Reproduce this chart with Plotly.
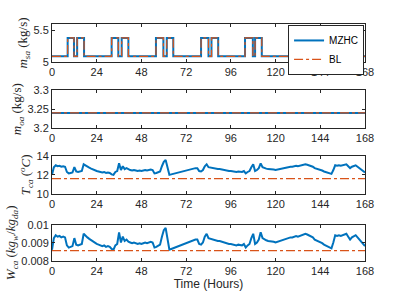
import plotly.graph_objects as go
from plotly.subplots import make_subplots

# ---- data ----
msa_t = [0, 8.4, 11.8, 13.5, 17.2, 32.0, 35.6, 37.4, 41.0, 55.8, 59.8, 61.6, 65.1,
         80.0, 84.0, 85.6, 89.2, 103.6, 107.8, 109.0, 112.6, 168]
msa_mzhc = [5.09, 5.38, 5.09, 5.38, 5.09, 5.38, 5.09, 5.38, 5.09, 5.38, 5.09, 5.38, 5.09,
            5.38, 5.09, 5.38, 5.09, 5.38, 5.09, 5.38, 5.09, 5.09]
msa_bl = [5.09, 5.38, 5.09, 5.38, 5.09, 5.38, 5.09, 5.38, 5.09, 5.38, 5.09, 5.38, 5.09,
          5.38, 5.09, 5.38, 5.09, 5.38, 5.09, 5.38, 5.09, 5.09]

moa_t = [0, 168]
moa_mzhc = [3.24, 3.24]
moa_bl = [3.24, 3.24]

hours = list(range(169))
tca_mzhc = [
    12.0, 12.8, 13.0, 12.9, 12.95, 12.85, 12.9, 12.85, 12.3, 12.15,
    12.2, 12.25, 12.8, 12.35, 12.3, 12.35, 12.4, 13.1, 12.95, 12.85,
    12.75, 12.65, 12.55, 12.5, 12.4, 12.35, 12.3, 12.25, 12.3, 12.2,
    12.25, 12.2, 12.05, 12.0, 12.3, 12.4, 13.2, 12.5, 12.9, 12.6,
    12.7, 12.55, 12.5, 12.45, 12.5, 12.45, 12.4, 12.45, 12.4, 12.45,
    12.5, 12.45, 12.5, 12.55, 12.5, 12.15, 12.2, 12.3, 12.35, 12.9,
    13.35, 13.55, 12.6, 12.0, 12.05, 12.1, 12.2, 12.25, 12.3, 12.35,
    12.4, 12.45, 12.5, 12.55, 12.6, 12.6, 12.65, 12.7, 12.7, 12.4,
    12.35, 12.5, 12.9, 13.1, 12.8, 12.75, 12.7, 12.7, 12.65, 12.6,
    12.6, 12.55, 12.5, 12.5, 12.45, 12.4, 12.4, 12.35, 12.35, 12.3,
    12.35, 12.3, 12.3, 12.4, 12.15, 12.3, 12.4, 12.8, 13.1, 12.4,
    12.5, 12.7, 13.2, 12.8, 12.7, 12.65, 12.6, 12.6, 12.55, 12.55,
    12.5, 12.55, 12.6, 12.65, 12.7, 12.75, 12.8, 12.8, 12.85, 12.85,
    12.9, 12.95, 12.9, 12.95, 13.0, 13.05, 13.1, 13.05, 13.0, 12.9,
    12.85, 12.7, 12.65, 12.6, 12.5, 12.45, 12.35, 12.3, 12.25, 12.15,
    12.1, 12.5, 13.0, 12.95, 13.0, 12.95, 13.0, 13.05, 13.1, 12.9,
    12.7, 12.85, 12.9, 13.0, 12.85, 12.7, 12.6, 12.4, 12.25,
]
tca_bl = [11.6, 11.6]

wca_mzhc = [
    0.00862, 0.00926, 0.00942, 0.00934, 0.00938, 0.00930, 0.00934, 0.00930, 0.00886, 0.00874,
    0.00878, 0.00882, 0.00926, 0.00890, 0.00886, 0.00890, 0.00894, 0.00950, 0.00938, 0.00930,
    0.00922, 0.00914, 0.00906, 0.00902, 0.00894, 0.00890, 0.00886, 0.00882, 0.00886, 0.00878,
    0.00882, 0.00878, 0.00866, 0.00862, 0.00886, 0.00894, 0.00958, 0.00902, 0.00934, 0.00910,
    0.00918, 0.00906, 0.00902, 0.00898, 0.00902, 0.00898, 0.00894, 0.00898, 0.00894, 0.00898,
    0.00902, 0.00898, 0.00902, 0.00906, 0.00902, 0.00874, 0.00878, 0.00886, 0.00890, 0.00934,
    0.00970, 0.00982, 0.00910, 0.00862, 0.00866, 0.00870, 0.00878, 0.00882, 0.00886, 0.00890,
    0.00894, 0.00898, 0.00902, 0.00906, 0.00910, 0.00910, 0.00914, 0.00918, 0.00918, 0.00894,
    0.00890, 0.00902, 0.00934, 0.00950, 0.00926, 0.00922, 0.00918, 0.00918, 0.00914, 0.00910,
    0.00910, 0.00906, 0.00902, 0.00902, 0.00898, 0.00894, 0.00894, 0.00890, 0.00890, 0.00886,
    0.00890, 0.00886, 0.00886, 0.00894, 0.00874, 0.00886, 0.00894, 0.00926, 0.00950, 0.00894,
    0.00902, 0.00918, 0.00958, 0.00926, 0.00918, 0.00914, 0.00910, 0.00910, 0.00906, 0.00906,
    0.00902, 0.00906, 0.00910, 0.00914, 0.00918, 0.00922, 0.00926, 0.00926, 0.00930, 0.00930,
    0.00934, 0.00938, 0.00934, 0.00938, 0.00942, 0.00946, 0.00950, 0.00946, 0.00942, 0.00934,
    0.00930, 0.00918, 0.00914, 0.00910, 0.00902, 0.00898, 0.00890, 0.00886, 0.00882, 0.00874,
    0.00870, 0.00902, 0.00942, 0.00938, 0.00942, 0.00938, 0.00942, 0.00946, 0.00950, 0.00934,
    0.00918, 0.00930, 0.00934, 0.00942, 0.00930, 0.00918, 0.00910, 0.00894, 0.00882,
]
wca_bl = [0.00857, 0.00857]

x_ticks = [0, 24, 48, 72, 96, 120, 144, 168]

BLUE = "#0072BD"
ORANGE = "#D95319"

fig = make_subplots(rows=4, cols=1)

def add_pair(row, xm, ym, xb, yb, shape="linear", show=False):
    fig.add_trace(go.Scatter(x=xm, y=ym, mode="lines", name="MZHC", showlegend=show,
                             line=dict(color=BLUE, width=2, shape=shape)), row=row, col=1)
    fig.add_trace(go.Scatter(x=xb, y=yb, mode="lines", name="BL", showlegend=show,
                             line=dict(color=ORANGE, width=1.2, dash="dashdot", shape=shape)), row=row, col=1)

add_pair(1, msa_t, msa_mzhc, msa_t, msa_bl, shape="hv", show=True)
add_pair(2, moa_t, moa_mzhc, moa_t, moa_bl)
add_pair(3, hours, tca_mzhc, [0, 168], tca_bl)
add_pair(4, hours, wca_mzhc, [0, 168], wca_bl)

domains = [[0.8397, 1.0], [0.560, 0.7215], [0.2827, 0.4443], [0.0, 0.1532]]
yranges = [[5, 5.6], [3.2, 3.3], [10, 14], [0.008, 0.01]]
ytickv = [[5, 5.5], [3.2, 3.25, 3.3], [10, 12, 14], [0.008, 0.009, 0.01]]
ytickt = [["5", "5.5"], ["3.2", "3.25", "3.3"], ["10", "12", "14"], ["0.008", "0.009", "0.01"]]
ytitles = [
    "<i>m<sub>sa</sub></i> (kg/s)",
    "<i>m<sub>oa</sub></i> (kg/s)",
    "<i>T<sub>ca</sub></i> (<sup><i>o</i></sup><i>C</i>)",
    "<i>W<sub>ca</sub></i> (<i>kg<sub>w</sub></i>/<i>kg<sub>da</sub></i>)",
]

axis_common = dict(showline=True, linecolor="#262626", linewidth=1, mirror="ticks",
                   ticks="inside", ticklen=3, tickcolor="#262626", showgrid=False,
                   zeroline=False, automargin=False,
                   tickfont=dict(family="Liberation Sans, Arial", size=11, color="#262626"))

for i in range(4):
    n = "" if i == 0 else str(i + 1)
    fig.layout["xaxis" + n].update(range=[0, 168], tickvals=x_ticks, domain=[0, 1], **axis_common)
    fig.layout["yaxis" + n].update(range=yranges[i], domain=domains[i], tickvals=ytickv[i],
                                    ticktext=ytickt[i],
                                    title=dict(text=ytitles[i], standoff=2,
                                               font=dict(family="Liberation Serif, DejaVu Serif", size=13, color="#262626")),
                                    **axis_common)

fig.layout["xaxis4"].update(title=dict(text="Time (Hours)", standoff=2,
                                       font=dict(family="Liberation Sans, Arial", size=12, color="#262626")))

fig.update_layout(
    width=403, height=302,
    margin=dict(l=52, r=38, t=24, b=41),
    paper_bgcolor="white", plot_bgcolor="white",
    legend=dict(x=0.997, y=0.996, xanchor="right", yanchor="top",
                bgcolor="white", bordercolor="#262626", borderwidth=1,
                font=dict(family="Liberation Sans, Arial", size=10, color="#000000"),
                tracegroupgap=0, itemwidth=30),
)

fig.write_html("out.html", config={"displayModeBar": False},
               post_script="document.body.style.margin='0';")
